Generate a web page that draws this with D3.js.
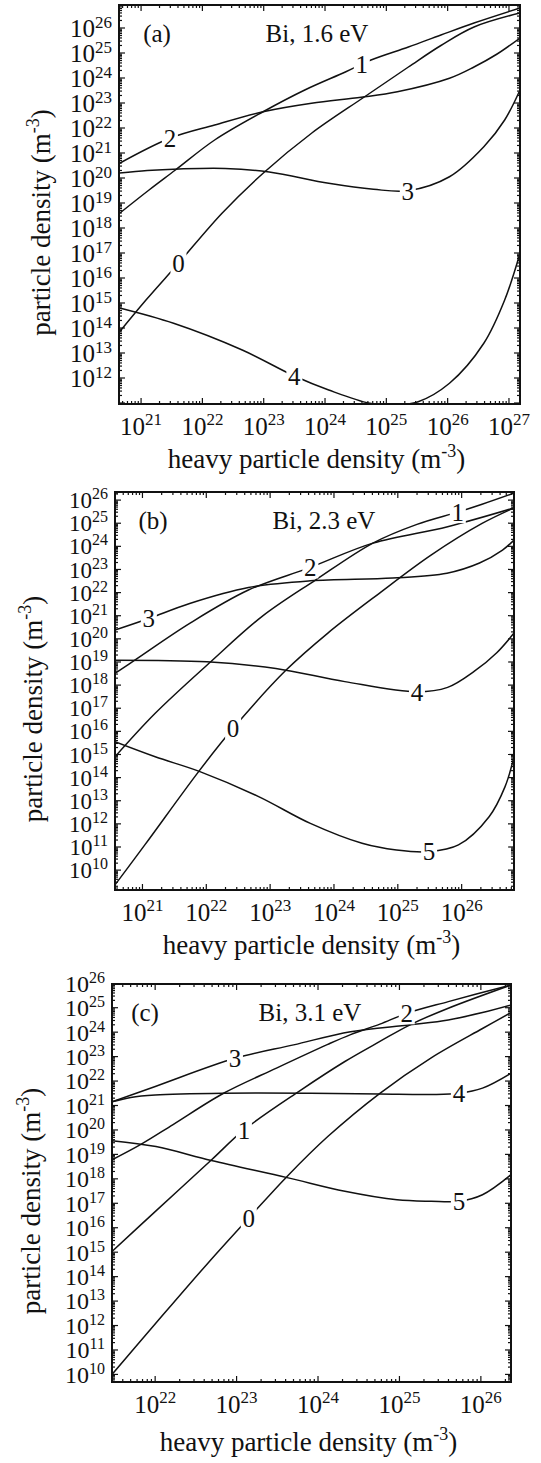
<!DOCTYPE html>
<html>
<head>
<meta charset="utf-8">
<script src="https://cdn.jsdelivr.net/npm/d3@7"></script>
<style>
  body { margin: 0; background: #fff; }
  svg { display: block; }
  text { font-family: "Liberation Serif", "DejaVu Serif", serif; }
</style>
</head>
<body>
<svg id="chart" width="541" height="1463" font-family="Liberation Serif, DejaVu Serif, serif"></svg>
<script>
// All values are log10 exponents [heavy particle density, particle density]

// (a) Bi, 1.6 eV
const a0 = [[20.65,13.85],[21.08,15.12],[21.61,16.59],[22.32,18.59],[22.99,20.19],[23.78,21.79],[24.64,23.24],[25.36,24.44],[25.89,25.3],[26.43,26.04],[27.18,26.6]];
const a1 = [[20.65,18.59],[21.13,19.52],[21.56,20.32],[22.2,21.52],[22.99,22.65],[23.67,23.52],[24.34,24.25],[24.75,24.72],[25.36,25.24],[25.89,25.72],[26.43,26.2],[27.18,26.8]];
const a2 = [[20.65,20.59],[21.47,21.59],[22.2,22.12],[22.99,22.65],[23.78,22.99],[24.59,23.23],[25.18,23.45],[26.03,23.99],[26.43,24.44],[26.8,24.95],[27.18,25.6]];
const a3 = [[20.65,20.2],[21.1,20.3],[21.62,20.36],[22.37,20.38],[23.09,20.24],[24.06,19.79],[24.79,19.55],[25.35,19.49],[26.03,20.05],[26.59,21.25],[26.93,22.32],[27.18,23.52]];
const a4 = [[20.65,14.8],[21.53,14.19],[22.65,13.12],[23.5,12.08],[24.06,11.52],[24.73,10.99],[25.18,10.92],[25.52,11.05],[26.03,11.79],[26.59,13.39],[26.93,15.12],[27.18,16.99]];
const aLabelX = [21.61, 24.6, 21.47, 25.35, 23.5];
const aXTicks = [21, 22, 23, 24, 25, 26, 27];
const aYTicks = [12, 13, 14, 15, 16, 17, 18, 19, 20, 21, 22, 23, 24, 25, 26];

// (b) Bi, 2.3 eV
const b0 = [[20.57,9.36],[21.04,11.1],[21.88,14.26],[22.42,16.13],[23.25,18.65],[23.9,20.24],[24.71,21.97],[25.52,23.62],[26.32,24.99],[26.82,25.66]];
const b1 = [[20.57,14.9],[21.2,16.78],[22.07,19.01],[22.87,20.96],[23.71,22.54],[24.61,24.14],[25.3,24.95],[25.94,25.48],[26.32,25.82],[26.82,26.3]];
const b2 = [[20.57,18.51],[20.88,19.08],[21.74,20.67],[22.66,22.11],[23.63,23.09],[24.61,24.14],[25.78,24.85],[26.82,25.66]];
const b3 = [[20.57,20.38],[21.1,20.88],[21.74,21.53],[22.66,22.22],[23.63,22.51],[24.92,22.63],[25.77,22.84],[26.28,23.28],[26.64,23.84],[26.82,24.27]];
const b4 = [[20.57,19.08],[22.01,19.01],[23.09,18.72],[24.17,18.15],[25.3,17.71],[25.78,17.9],[26.2,18.6],[26.55,19.4],[26.82,20.25]];
const b5 = [[20.57,15.55],[21.2,14.9],[21.9,14.26],[22.82,13.18],[23.63,12.02],[24.44,11.16],[24.98,10.87],[25.49,10.8],[25.95,11.09],[26.43,12.31],[26.68,13.61],[26.82,14.9]];
const bLabelX = [22.42, 25.94, 23.63, 21.1, 25.3, 25.49];
const bXTicks = [21, 22, 23, 24, 25, 26];
const bYTicks = [10, 11, 12, 13, 14, 15, 16, 17, 18, 19, 20, 21, 22, 23, 24, 25, 26];

// (c) Bi, 3.1 eV
const c0 = [[21.47,10],[22.01,12.1],[22.65,14.56],[23.15,16.4],[23.62,18.1],[24.12,19.73],[24.76,21.5],[25.39,22.95],[26.02,24.15],[26.37,24.8]];
const c1 = [[21.47,15.03],[22.01,16.69],[22.69,18.77],[23.09,20.0],[23.78,21.61],[24.33,22.8],[24.76,23.62],[25.13,24.3],[25.6,24.98],[26.37,25.93]];
const c2 = [[21.47,18.78],[21.83,19.42],[22.22,20.22],[22.84,21.5],[23.49,22.53],[24.12,23.5],[24.4,23.9],[24.76,24.33],[25.09,24.77],[25.6,25.25],[26.37,25.93]];
const c3 = [[21.47,21.15],[22.01,21.79],[22.98,22.93],[23.7,23.48],[24.4,24.02],[25.13,24.3],[25.6,24.5],[26.02,24.8],[26.37,25.11]];
const c4 = [[21.47,21.15],[21.7,21.33],[22.0,21.43],[22.84,21.5],[23.91,21.5],[24.76,21.47],[25.39,21.45],[25.73,21.5],[26.02,21.71],[26.37,22.32]];
const c5 = [[21.47,19.56],[22.01,19.32],[22.69,18.75],[23.62,18.05],[24.33,17.49],[24.97,17.14],[25.39,17.08],[25.73,17.08],[26.02,17.35],[26.37,18.17]];
const cLabelX = [23.15, 23.09, 25.09, 22.98, 25.73, 25.73];
const cXTicks = [22, 23, 24, 25, 26];
const cYTicks = [10, 11, 12, 13, 14, 15, 16, 17, 18, 19, 20, 21, 22, 23, 24, 25, 26];

const panels = [
  { tag: "(a)", title: "Bi, 1.6 eV", curves: [a0, a1, a2, a3, a4], labelX: aLabelX,
    xDom: [20.64, 27.18], yDom: [10.96, 26.92], xTicks: aXTicks, yTicks: aYTicks, yFont: 25,
    box: { x: 119, y: 5, w: 401, h: 399 }, tagX: 38, titleX: 198, ytitleDx: 78, xtitleDy: 64 },
  { tag: "(b)", title: "Bi, 2.3 eV", curves: [b0, b1, b2, b3, b4, b5], labelX: bLabelX,
    xDom: [20.57, 26.82], yDom: [9.14, 26.35], xTicks: bXTicks, yTicks: bYTicks, yFont: 23,
    box: { x: 115, y: 492, w: 399, h: 398 }, tagX: 38, titleX: 209, ytitleDx: 82, xtitleDy: 64 },
  { tag: "(c)", title: "Bi, 3.1 eV", curves: [c0, c1, c2, c3, c4, c5], labelX: cLabelX,
    xDom: [21.47, 26.37], yDom: [9.69, 25.97], xTicks: cXTicks, yTicks: cYTicks, yFont: 24,
    box: { x: 112, y: 984, w: 399, h: 398 }, tagX: 33, titleX: 198, ytitleDx: 81, xtitleDy: 69 }
];

const svg = d3.select("#chart");

// every 1..9 x 10^n value inside an exponent domain
function logTicks(dom) {
  const out = [];
  for (let e = Math.floor(dom[0]); e <= Math.ceil(dom[1]); e++) {
    for (let k = 1; k < 10; k++) {
      const le = Math.log10(k) + e;
      if (le >= dom[0] - 1e-9 && le <= dom[1] + 1e-9) out.push({ v: k * 10 ** e, major: k === 1 });
    }
  }
  return out;
}

// linear interpolation of exponent y at exponent x
function interpAt(pts, lx) {
  for (let i = 1; i < pts.length; i++) {
    if (lx <= pts[i][0]) {
      const [x0, y0] = pts[i - 1], [x1, y1] = pts[i];
      return y0 + (y1 - y0) * (lx - x0) / (x1 - x0);
    }
  }
  return pts[pts.length - 1][1];
}

function powLabel(sel, exp, sup, raise) {
  sel.text("10");
  sel.append("tspan").attr("font-size", sup).attr("dy", -raise).text(exp);
}

panels.forEach((p, pi) => {
  const b = p.box;
  const g = svg.append("g");
  const x = d3.scaleLog().domain(p.xDom.map(e => 10 ** e)).range([b.x, b.x + b.w]);
  const y = d3.scaleLog().domain(p.yDom.map(e => 10 ** e)).range([b.y + b.h, b.y]);

  g.append("clipPath").attr("id", "clip" + pi)
    .append("rect").attr("x", b.x).attr("y", b.y).attr("width", b.w).attr("height", b.h);

  // ticks on all four sides, pointing in
  const xt = logTicks(p.xDom), yt = logTicks(p.yDom);
  const tk = g.append("g").attr("stroke", "#111").attr("stroke-width", 1.2);
  xt.forEach(t => {
    const px = x(t.v), len = t.major ? 6 : 3;
    tk.append("line").attr("x1", px).attr("x2", px).attr("y1", b.y + b.h).attr("y2", b.y + b.h - len);
    tk.append("line").attr("x1", px).attr("x2", px).attr("y1", b.y).attr("y2", b.y + len);
  });
  yt.forEach(t => {
    const py = y(t.v), len = t.major ? 6 : 3;
    tk.append("line").attr("y1", py).attr("y2", py).attr("x1", b.x).attr("x2", b.x + len);
    tk.append("line").attr("y1", py).attr("y2", py).attr("x1", b.x + b.w).attr("x2", b.x + b.w - len);
  });

  // curves
  const line = d3.line()
    .x(d => x(10 ** d[0]))
    .y(d => y(10 ** d[1]))
    .curve(d3.curveCatmullRom.alpha(0.5));
  g.append("g").attr("clip-path", `url(#clip${pi})`)
    .selectAll("path").data(p.curves).join("path")
    .attr("d", line)
    .attr("fill", "none")
    .attr("stroke", "#111")
    .attr("stroke-width", 1.5);

  // curve labels, breaking the line
  p.curves.forEach((c, i) => {
    const lx = p.labelX[i];
    const px = x(10 ** lx), py = y(10 ** interpAt(c, lx));
    g.append("rect").attr("x", px - 8).attr("y", py - 11).attr("width", 16).attr("height", 22).attr("fill", "#fff");
    g.append("text").attr("x", px).attr("y", py).attr("dy", "0.35em")
      .attr("text-anchor", "middle").attr("font-size", 25).attr("fill", "#111").text(i);
  });

  // frame
  g.append("rect").attr("x", b.x).attr("y", b.y).attr("width", b.w).attr("height", b.h)
    .attr("fill", "none").attr("stroke", "#111").attr("stroke-width", 2);

  // tick labels
  p.xTicks.forEach(e => {
    g.append("text").attr("x", x(10 ** e)).attr("y", b.y + b.h + 31)
      .attr("text-anchor", "middle").attr("font-size", 25).attr("fill", "#111")
      .call(powLabel, e, 17, 10);
  });
  p.yTicks.forEach(e => {
    g.append("text").attr("x", b.x - 7).attr("y", y(10 ** e)).attr("dy", "0.35em")
      .attr("text-anchor", "end").attr("font-size", p.yFont).attr("fill", "#111")
      .call(powLabel, e, Math.round(p.yFont * 0.68), 9);
  });

  // panel tag and title
  g.append("text").attr("x", b.x + p.tagX).attr("y", b.y + 28).attr("dy", "0.35em")
    .attr("text-anchor", "middle").attr("font-size", 25).attr("fill", "#111").text(p.tag);
  g.append("text").attr("x", b.x + p.titleX).attr("y", b.y + 28).attr("dy", "0.35em")
    .attr("text-anchor", "middle").attr("font-size", 25).attr("fill", "#111").text(p.title);

  // axis titles
  const xtl = g.append("text").attr("x", b.x + b.w / 2 - 3).attr("y", b.y + b.h + p.xtitleDy)
    .attr("text-anchor", "middle").attr("font-size", 27).attr("fill", "#111")
    .text("heavy particle density (m");
  xtl.append("tspan").attr("font-size", 18).attr("dy", -11).text("-3");
  xtl.append("tspan").attr("dy", 11).text(")");

  const ytl = g.append("text")
    .attr("transform", `translate(${b.x - p.ytitleDx},${b.y + b.h / 2 + 18}) rotate(-90)`)
    .attr("dy", "0.35em").attr("text-anchor", "middle").attr("font-size", 27).attr("fill", "#111")
    .text("particle density (m");
  ytl.append("tspan").attr("font-size", 18).attr("dy", -11).text("-3");
  ytl.append("tspan").attr("dy", 11).text(")");
});
</script>
</body>
</html>
